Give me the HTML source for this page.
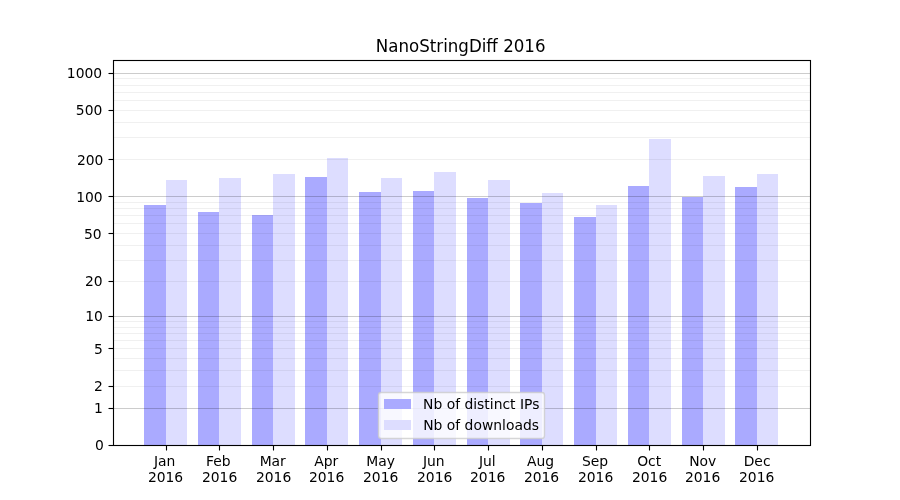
<!DOCTYPE html>
<html lang="en">
<head>
<meta charset="utf-8">
<title>NanoStringDiff 2016</title>
<style>
html,body{margin:0;padding:0;background:#fff;}
body{width:900px;height:500px;overflow:hidden;}
svg{display:block;will-change:transform;}
text{font-family:"DejaVu Sans","Liberation Sans",sans-serif;fill:#000;}
.t10{font-size:13.889px;}
.t12{font-size:16.667px;}
.bar{shape-rendering:crispEdges;}
.d{fill:#aaaaff;}
.l{fill:#ddddff;}
.gm{stroke:#000;stroke-opacity:0.2;stroke-width:1.111;}
.gn{stroke:#000;stroke-opacity:0.06;stroke-width:1.111;}
.ax{stroke:#000;stroke-width:1.111;fill:none;stroke-linecap:square;}
.tk{stroke:#000;stroke-width:1.111;stroke-linecap:butt;}
</style>
</head>
<body>
<svg width="900" height="500" viewBox="0 0 900 500">
<rect x="0" y="0" width="900" height="500" fill="#ffffff"/>
<g class="bar">
<rect class="d" x="144" y="205" width="22" height="240"/><rect class="l" x="166" y="180" width="21" height="265"/>
<rect class="d" x="198" y="212" width="21" height="233"/><rect class="l" x="219" y="178" width="22" height="267"/>
<rect class="d" x="252" y="215" width="21" height="230"/><rect class="l" x="273" y="174" width="22" height="271"/>
<rect class="d" x="305" y="177" width="22" height="268"/><rect class="l" x="327" y="158" width="21" height="287"/>
<rect class="d" x="359" y="192" width="22" height="253"/><rect class="l" x="381" y="178" width="21" height="267"/>
<rect class="d" x="413" y="191" width="21" height="254"/><rect class="l" x="434" y="172" width="22" height="273"/>
<rect class="d" x="467" y="198" width="21" height="247"/><rect class="l" x="488" y="180" width="22" height="265"/>
<rect class="d" x="520" y="203" width="22" height="242"/><rect class="l" x="542" y="193" width="21" height="252"/>
<rect class="d" x="574" y="217" width="22" height="228"/><rect class="l" x="596" y="205" width="21" height="240"/>
<rect class="d" x="628" y="186" width="21" height="259"/><rect class="l" x="649" y="139" width="22" height="306"/>
<rect class="d" x="682" y="197" width="21" height="248"/><rect class="l" x="703" y="176" width="22" height="269"/>
<rect class="d" x="735" y="187" width="22" height="258"/><rect class="l" x="757" y="174" width="21" height="271"/>
</g>
<g>
<line class="gn" x1="113.5" x2="810.5" y1="386.5" y2="386.5"/><line class="gn" x1="113.5" x2="810.5" y1="370.5" y2="370.5"/><line class="gn" x1="113.5" x2="810.5" y1="358.5" y2="358.5"/><line class="gn" x1="113.5" x2="810.5" y1="348.5" y2="348.5"/><line class="gn" x1="113.5" x2="810.5" y1="340.5" y2="340.5"/><line class="gn" x1="113.5" x2="810.5" y1="333.5" y2="333.5"/><line class="gn" x1="113.5" x2="810.5" y1="327.5" y2="327.5"/><line class="gn" x1="113.5" x2="810.5" y1="321.5" y2="321.5"/><line class="gn" x1="113.5" x2="810.5" y1="281.5" y2="281.5"/><line class="gn" x1="113.5" x2="810.5" y1="260.5" y2="260.5"/><line class="gn" x1="113.5" x2="810.5" y1="245.5" y2="245.5"/><line class="gn" x1="113.5" x2="810.5" y1="233.5" y2="233.5"/><line class="gn" x1="113.5" x2="810.5" y1="223.5" y2="223.5"/><line class="gn" x1="113.5" x2="810.5" y1="215.5" y2="215.5"/><line class="gn" x1="113.5" x2="810.5" y1="208.5" y2="208.5"/><line class="gn" x1="113.5" x2="810.5" y1="202.5" y2="202.5"/><line class="gn" x1="113.5" x2="810.5" y1="159.5" y2="159.5"/><line class="gn" x1="113.5" x2="810.5" y1="137.5" y2="137.5"/><line class="gn" x1="113.5" x2="810.5" y1="122.5" y2="122.5"/><line class="gn" x1="113.5" x2="810.5" y1="110.5" y2="110.5"/><line class="gn" x1="113.5" x2="810.5" y1="100.5" y2="100.5"/><line class="gn" x1="113.5" x2="810.5" y1="92.5" y2="92.5"/><line class="gn" x1="113.5" x2="810.5" y1="85.5" y2="85.5"/><line class="gn" x1="113.5" x2="810.5" y1="78.5" y2="78.5"/>
<line class="gm" x1="113.5" x2="810.5" y1="408.5" y2="408.5"/><line class="gm" x1="113.5" x2="810.5" y1="316.5" y2="316.5"/><line class="gm" x1="113.5" x2="810.5" y1="196.5" y2="196.5"/><line class="gm" x1="113.5" x2="810.5" y1="73.5" y2="73.5"/>
</g>
<g>
<line class="tk" x1="166.5" x2="166.5" y1="445.5" y2="450.5"/><line class="tk" x1="219.5" x2="219.5" y1="445.5" y2="450.5"/><line class="tk" x1="273.5" x2="273.5" y1="445.5" y2="450.5"/><line class="tk" x1="327.5" x2="327.5" y1="445.5" y2="450.5"/><line class="tk" x1="381.5" x2="381.5" y1="445.5" y2="450.5"/><line class="tk" x1="434.5" x2="434.5" y1="445.5" y2="450.5"/><line class="tk" x1="488.5" x2="488.5" y1="445.5" y2="450.5"/><line class="tk" x1="542.5" x2="542.5" y1="445.5" y2="450.5"/><line class="tk" x1="596.5" x2="596.5" y1="445.5" y2="450.5"/><line class="tk" x1="649.5" x2="649.5" y1="445.5" y2="450.5"/><line class="tk" x1="703.5" x2="703.5" y1="445.5" y2="450.5"/><line class="tk" x1="757.5" x2="757.5" y1="445.5" y2="450.5"/>
<line class="tk" x1="108.5" x2="113.5" y1="445.5" y2="445.5"/><line class="tk" x1="108.5" x2="113.5" y1="408.5" y2="408.5"/><line class="tk" x1="108.5" x2="113.5" y1="386.5" y2="386.5"/><line class="tk" x1="108.5" x2="113.5" y1="348.5" y2="348.5"/><line class="tk" x1="108.5" x2="113.5" y1="316.5" y2="316.5"/><line class="tk" x1="108.5" x2="113.5" y1="281.5" y2="281.5"/><line class="tk" x1="108.5" x2="113.5" y1="233.5" y2="233.5"/><line class="tk" x1="108.5" x2="113.5" y1="196.5" y2="196.5"/><line class="tk" x1="108.5" x2="113.5" y1="159.5" y2="159.5"/><line class="tk" x1="108.5" x2="113.5" y1="110.5" y2="110.5"/><line class="tk" x1="108.5" x2="113.5" y1="73.5" y2="73.5"/>
</g>
<rect class="ax" x="113.5" y="60.5" width="697.0" height="385.0"/>
<g class="t10" text-anchor="middle">
<text text-anchor="middle" x="164.65" y="466">Jan</text><text text-anchor="middle" x="165.55" y="482">2016</text>
<text text-anchor="middle" x="218.24" y="466">Feb</text><text text-anchor="middle" x="219.59" y="482">2016</text>
<text text-anchor="middle" x="272.72" y="466">Mar</text><text text-anchor="middle" x="273.62" y="482">2016</text>
<text text-anchor="middle" x="326.16" y="466">Apr</text><text text-anchor="middle" x="326.61" y="482">2016</text>
<text text-anchor="middle" x="380.50" y="466">May</text><text text-anchor="middle" x="380.65" y="482">2016</text>
<text text-anchor="middle" x="433.78" y="466">Jun</text><text text-anchor="middle" x="434.68" y="482">2016</text>
<text text-anchor="middle" x="487.37" y="466">Jul</text><text text-anchor="middle" x="487.67" y="482">2016</text>
<text text-anchor="middle" x="540.50" y="466">Aug</text><text text-anchor="middle" x="541.55" y="482">2016</text>
<text text-anchor="middle" x="594.99" y="466">Sep</text><text text-anchor="middle" x="595.59" y="482">2016</text>
<text text-anchor="middle" x="649.18" y="466">Oct</text><text text-anchor="middle" x="649.63" y="482">2016</text>
<text text-anchor="middle" x="702.76" y="466">Nov</text><text text-anchor="middle" x="702.61" y="482">2016</text>
<text text-anchor="middle" x="757.10" y="466">Dec</text><text text-anchor="middle" x="756.65" y="482">2016</text>
</g>
<g class="t10" text-anchor="end">
<text text-anchor="end" x="103.83" y="450">0</text><text text-anchor="end" x="102.78" y="413">1</text><text text-anchor="end" x="102.78" y="391">2</text><text text-anchor="end" x="102.78" y="354">5</text><text text-anchor="end" x="102.93" y="321">10</text><text text-anchor="end" x="102.63" y="286">20</text><text text-anchor="end" x="101.58" y="239">50</text><text text-anchor="end" x="102.63" y="202">100</text><text text-anchor="end" x="103.38" y="165">200</text><text text-anchor="end" x="102.33" y="115">500</text><text text-anchor="end" x="102.18" y="78">1000</text>
</g>
<text class="t12" text-anchor="middle" x="460.65" y="0" transform="translate(0,52.00) scale(1,1.075)">NanoStringDiff 2016</text>
<rect x="378.50" y="392.50" width="166.00" height="46.00" rx="2.78" ry="2.78" fill="#ffffff" stroke="#cccccc" stroke-width="1.389" fill-opacity="0.8" stroke-opacity="0.8"/>
<rect class="d bar" x="384" y="399" width="27" height="10"/><text class="t10" x="423.09" y="409">Nb of distinct IPs</text>
<rect class="l bar" x="384" y="420" width="27" height="10"/><text class="t10" x="423.24" y="430">Nb of downloads</text>
</svg>
</body>
</html>
